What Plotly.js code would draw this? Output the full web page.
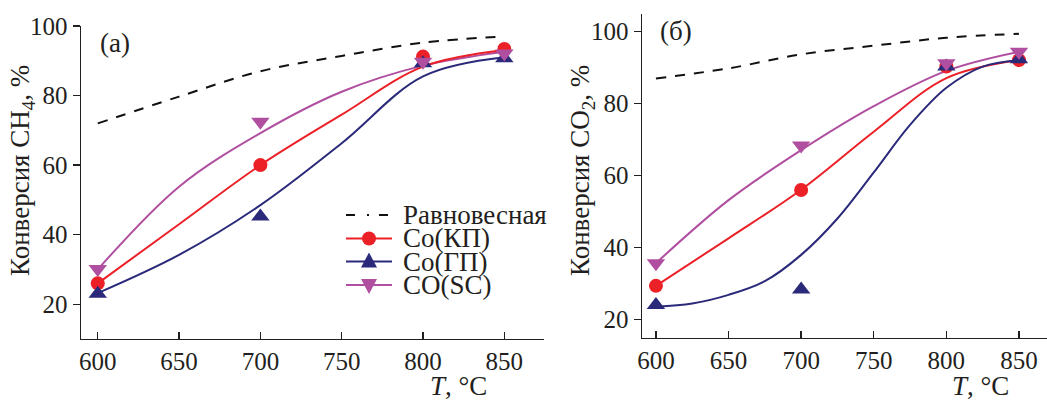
<!DOCTYPE html>
<html>
<head>
<meta charset="utf-8">
<script src="https://cdn.plot.ly/plotly-3.0.1.min.js"></script>
<style>html,body{margin:0;padding:0;background:#fff;}</style>
</head>
<body>
<div id="chart" style="width:1047px;height:400px;"></div>
<script>
// ---------- data ----------
const seriesNames = ['Равновесная', 'Co(КП)', 'Co(ГП)', 'CO(SC)'];
const tempPoints = [600, 700, 800, 850];
const tempCurve = [600, 650, 700, 750, 800, 850];
const tempCurveDense = [600, 625, 650, 675, 700, 725, 750, 775, 800, 825, 850];
const tickT = [600, 650, 700, 750, 800, 850];
const tickConv = [20, 40, 60, 80, 100];

// (a) CH4 conversion
const ch4Equil = [72, 79.7, 87, 91.4, 95.2, 97];
const ch4KP = [26, 60, 91.2, 93.4];
const ch4GP = [23, 45.2, 89.3, 90.7];
const ch4SC = [30.1, 72.5, 89.7, 92.1];
const ch4KPcurve = [26, 43, 60, 74.5, 88.3, 93.1];
const ch4GPcurve = [23.2, 34.2, 48.5, 66.3, 85.5, 91];
const ch4SCcurve = [30, 53.8, 69.2, 81.1, 88.6, 92.6];

// (б) CO2 conversion
const co2Equil = [86.9, 89.7, 93.6, 96.0, 98.2, 99.3];
const co2KP = [29.3, 55.9, 90.2, 92];
const co2GP = [24, 28.3, 90.2, 92.2];
const co2SC = [35.6, 68.3, 91.1, 94.3];
const co2KPcurve = [29.3, 42.5, 56, 72.1, 87, 92];
const co2GPcurve = [23.5, 24.4, 26.8, 30.6, 37.9, 48, 60.8, 74, 84.3, 90.2, 92];
const co2SCcurve = [35.6, 53.1, 67, 79.2, 89, 94.3];

// ---------- styles ----------
const W = 1047, H = 400;
const FONT = '"Liberation Serif", "Times New Roman", Times, serif';
const INK = '#231f20';
const RED = '#ec2027', NAVY = '#2b2a7a', PURP = '#b04fa0';
const px = v => v / W;
const py = v => 1 - v / H;

function curve(x, y, color, xa, ya) {
  return {x: x, y: y, mode: 'lines', type: 'scatter', xaxis: xa, yaxis: ya,
    line: {color: color, width: 2, shape: 'spline', smoothing: 1}, hoverinfo: 'skip', showlegend: false};
}
function pts(x, y, color, symbol, size, xa, ya) {
  return {x: x, y: y, mode: 'markers', type: 'scatter', xaxis: xa, yaxis: ya,
    marker: {color: color, symbol: symbol, size: size, line: {width: 0}}, showlegend: false};
}
function equil(x, y, xa, ya) {
  return {x: x, y: y, mode: 'lines', type: 'scatter', xaxis: xa, yaxis: ya,
    line: {color: '#111', width: 2, dash: '10px,9px', shape: 'spline'}, showlegend: false};
}

const traces = [
  equil(tempCurve, ch4Equil, 'x', 'y'),
  curve(tempCurve, ch4SCcurve, PURP, 'x', 'y'),
  curve(tempCurve, ch4KPcurve, RED, 'x', 'y'),
  curve(tempCurve, ch4GPcurve, NAVY, 'x', 'y'),
  pts(tempPoints, ch4KP, RED, 'circle', 14, 'x', 'y'),
  pts(tempPoints, ch4GP, NAVY, 'triangle-up', 16, 'x', 'y'),
  pts(tempPoints, ch4SC, PURP, 'triangle-down', 16, 'x', 'y'),

  equil(tempCurve, co2Equil, 'x2', 'y2'),
  curve(tempCurve, co2SCcurve, PURP, 'x2', 'y2'),
  curve(tempCurve, co2KPcurve, RED, 'x2', 'y2'),
  curve(tempCurveDense, co2GPcurve, NAVY, 'x2', 'y2'),
  pts(tempPoints, co2KP, RED, 'circle', 14, 'x2', 'y2'),
  pts(tempPoints, co2GP, NAVY, 'triangle-up', 16, 'x2', 'y2'),
  pts(tempPoints, co2SC, PURP, 'triangle-down', 16, 'x2', 'y2')
];

const axBase = {
  showline: true, linecolor: INK, linewidth: 1.4, showgrid: false, zeroline: false,
  tickfont: {family: FONT, size: 25, color: INK}, tickcolor: INK, ticklen: 7, tickwidth: 1.4,
  tickmode: 'array', fixedrange: true
};
const xAx = Object.assign({}, axBase, {tickvals: tickT, ticks: 'inside'});
const yAx = Object.assign({}, axBase, {tickvals: tickConv, ticks: 'outside'});

// legend (drawn as layout items)
const legX0 = 346, legX1 = 392, legXm = 369, legText = 401;
const legRows = [215, 238.5, 261.5, 285];
const shapes = [
  {type: 'line', xref: 'paper', yref: 'paper', x0: px(legX0), x1: px(legX1), y0: py(legRows[0]), y1: py(legRows[0]),
    line: {color: '#111', width: 2, dash: '9px,12px,2px,10px,9px'}},
  {type: 'line', xref: 'paper', yref: 'paper', x0: px(legX0), x1: px(legX1), y0: py(legRows[1]), y1: py(legRows[1]), line: {color: RED, width: 2}},
  {type: 'circle', xref: 'paper', yref: 'paper', x0: px(legXm - 7), x1: px(legXm + 7), y0: py(legRows[1] + 7), y1: py(legRows[1] - 7),
    fillcolor: RED, line: {width: 0}},
  {type: 'line', xref: 'paper', yref: 'paper', x0: px(legX0), x1: px(legX1), y0: py(legRows[2]), y1: py(legRows[2]), line: {color: NAVY, width: 2}},
  {type: 'path', xref: 'paper', yref: 'paper',
    path: `M ${px(legXm - 8)} ${py(legRows[2] + 6)} L ${px(legXm + 8)} ${py(legRows[2] + 6)} L ${px(legXm)} ${py(legRows[2] - 9)} Z`,
    fillcolor: NAVY, line: {width: 0}},
  {type: 'line', xref: 'paper', yref: 'paper', x0: px(legX0), x1: px(legX1), y0: py(legRows[3]), y1: py(legRows[3]), line: {color: PURP, width: 2}},
  {type: 'path', xref: 'paper', yref: 'paper',
    path: `M ${px(legXm - 8)} ${py(legRows[3] - 6)} L ${px(legXm + 8)} ${py(legRows[3] - 6)} L ${px(legXm)} ${py(legRows[3] + 9)} Z`,
    fillcolor: PURP, line: {width: 0}}
];

function txt(text, x, y, opts) {
  return Object.assign({text: text, xref: 'paper', yref: 'paper', x: px(x), y: py(y), showarrow: false,
    xanchor: 'center', yanchor: 'middle', font: {family: FONT, size: 27, color: INK}}, opts || {});
}

const annotations = [
  txt('Конверсия CH<sub>4</sub>, %', 22, 171, {textangle: -90}),
  txt('Конверсия CO<sub>2</sub>, %', 582, 171, {textangle: -90}),
  txt('(a)', 115, 43),
  txt('(б)', 676, 31),
  txt('<i>T</i>, °C', 458, 386),
  txt('<i>T</i>, °C', 980, 386)
];
seriesNames.forEach((n, i) => annotations.push(txt(n, legText, legRows[i], {xanchor: 'left'})));

const layout = {
  width: W, height: H, margin: {l: 0, r: 0, t: 0, b: 0},
  paper_bgcolor: '#fff', plot_bgcolor: '#fff', showlegend: false,
  font: {family: FONT, color: INK},
  xaxis: Object.assign({}, xAx, {domain: [px(81), px(544)], range: [589.7, 874.4], anchor: 'y'}),
  yaxis: Object.assign({}, yAx, {domain: [1 - 339 / H, 1 - 26 / H], range: [10, 100], anchor: 'x'}),
  xaxis2: Object.assign({}, xAx, {domain: [px(642), 1], range: [590.4, 869.3], anchor: 'y2'}),
  yaxis2: Object.assign({}, yAx, {domain: [1 - 337.7 / H, 1 - 14 / H], range: [14.9, 104.8], anchor: 'x2'}),
  shapes: shapes, annotations: annotations
};

Plotly.newPlot('chart', traces, layout, {displayModeBar: false, staticPlot: true});
</script>
</body>
</html>
